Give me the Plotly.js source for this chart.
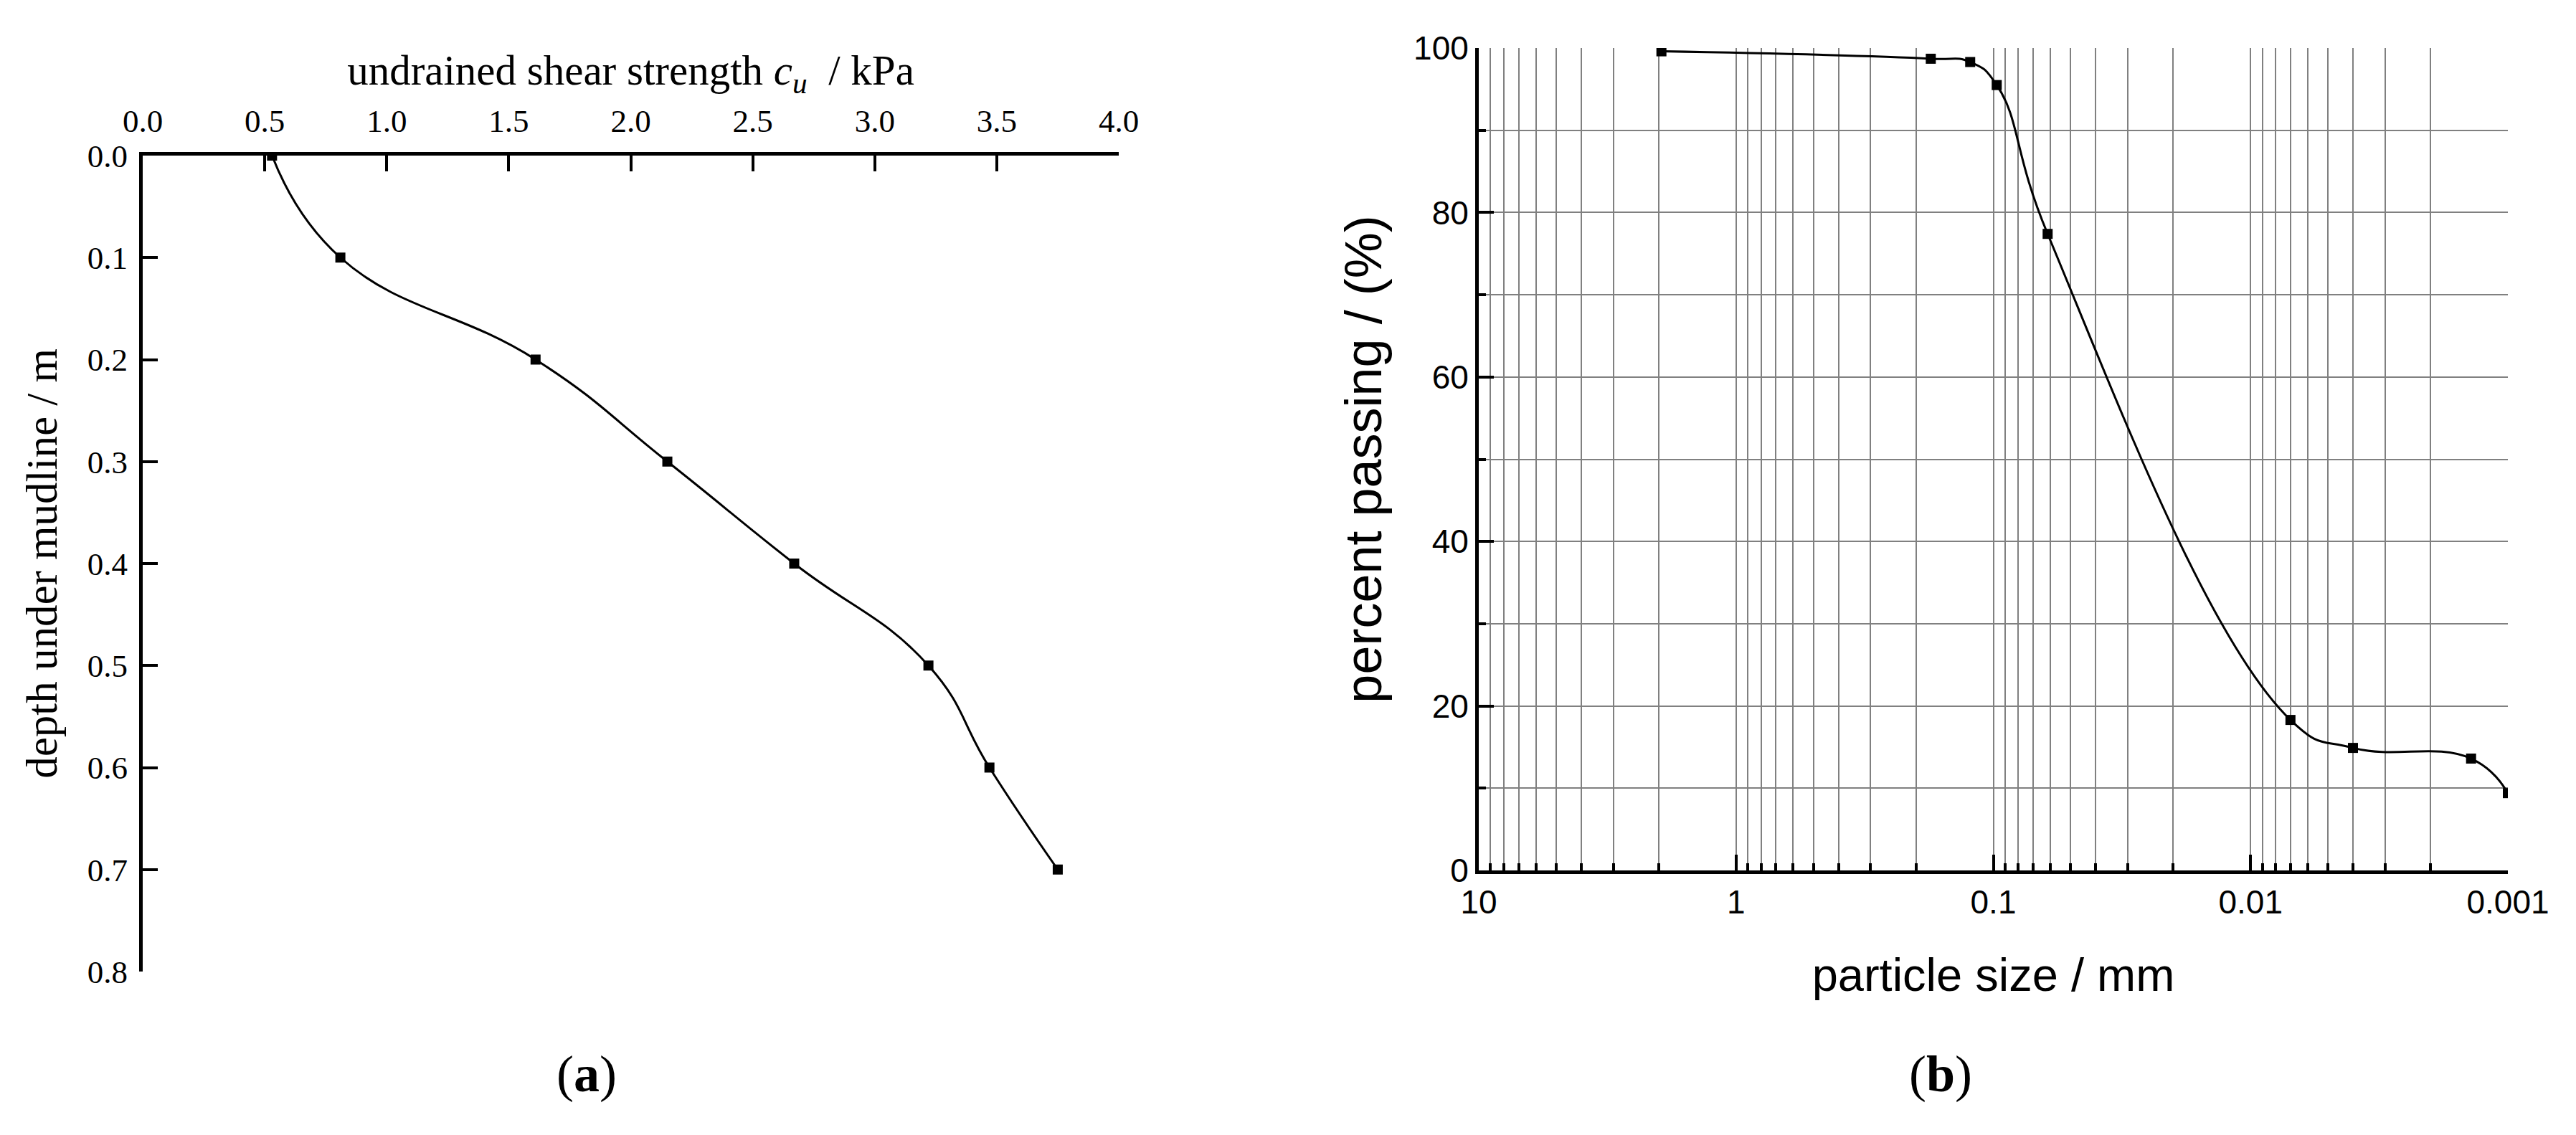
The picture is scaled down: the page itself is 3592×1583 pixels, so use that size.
<!DOCTYPE html>
<html>
<head>
<meta charset="utf-8">
<script src="https://cdn.plot.ly/plotly-3.0.1.min.js"></script>
<style>
html, body { margin: 0; padding: 0; background: #ffffff; }
#chart { width: 3592px; height: 1583px; }
</style>
</head>
<body>
<div id="chart"></div>
<script>
// ---- Panel (a): undrained shear strength profile ----
const shearStrength = [0.53, 0.81, 1.61, 2.15, 2.67, 3.22, 3.47, 3.75];
const depthBelowMudline = [0.0, 0.1, 0.2, 0.3, 0.4, 0.5, 0.6, 0.7];

// ---- Panel (b): particle size distribution ----
const particleSize = [1.95, 0.175, 0.123, 0.097, 0.0615, 0.0070, 0.0040, 0.00139, 0.001];
const percentPassing = [99.6, 98.7, 98.3, 95.5, 77.4, 18.3, 14.9, 13.6, 9.4];

// ---- Tick labels ----
const sizeTickVals = [10, 1, 0.1, 0.01, 0.001];
const sizeTickText = ["10", "1", "0.1", "0.01", "0.001"];
const sizeDecades = [10, 1, 0.1, 0.01];
const sizeDigits = [2, 3, 4, 5, 6, 7, 8, 9];
const sizeMinorVals = [];
sizeDecades.forEach(function (d) {
  sizeDigits.forEach(function (k) { sizeMinorVals.push(d / 10 * k); });
});

const W = 3592, H = 1583;
const px = function (x) { return x / W; };
const py = function (y) { return (H - y) / H; };

const black = "#000000";
const grid = "#808080";
const serif = "Liberation Serif, Times New Roman, serif";
const sans = "Liberation Sans, Arial, sans-serif";

const traces = [
  {
    x: shearStrength, y: depthBelowMudline,
    xaxis: "x", yaxis: "y",
    mode: "lines+markers", type: "scatter",
    line: { shape: "spline", smoothing: 1.3, color: black, width: 3 },
    marker: { symbol: "square", size: 14, color: black },
    showlegend: false, hoverinfo: "skip"
  },
  {
    x: particleSize, y: percentPassing,
    xaxis: "x2", yaxis: "y2",
    mode: "lines+markers", type: "scatter",
    line: { shape: "spline", smoothing: 1.3, color: black, width: 3 },
    marker: { symbol: "square", size: 14, color: black },
    showlegend: false, hoverinfo: "skip"
  }
];

const layout = {
  width: W, height: H,
  margin: { l: 0, r: 0, t: 0, b: 0 },
  paper_bgcolor: "#ffffff",
  plot_bgcolor: "#ffffff",
  showlegend: false,
  xaxis: {
    domain: [px(199), px(1560)], anchor: "y", side: "top",
    range: [0, 4], tick0: 0, dtick: 0.5, tickformat: ".1f",
    ticks: "inside", ticklen: 22, tickwidth: 4, tickcolor: black,
    ticklabelstandoff: 10,
    showline: true, linewidth: 5, linecolor: black,
    showgrid: false, zeroline: false,
    tickfont: { family: serif, size: 45, color: black },
    title: {
      text: "undrained shear strength <i>c</i><sub><i>u</i></sub>&nbsp; / kPa",
      font: { family: serif, size: 59, color: black }, standoff: 8
    }
  },
  yaxis: {
    domain: [py(1355), py(217)], anchor: "x",
    range: [0.8, 0], tick0: 0, dtick: 0.1, tickformat: ".1f",
    ticks: "inside", ticklen: 21, tickwidth: 4, tickcolor: black,
    ticklabelstandoff: 7,
    showline: true, linewidth: 5, linecolor: black,
    showgrid: false, zeroline: false,
    tickfont: { family: serif, size: 45, color: black },
    title: {
      text: "depth under mudline / m",
      font: { family: serif, size: 61, color: black }, standoff: 24
    }
  },
  xaxis2: {
    domain: [px(2062), px(3497)], anchor: "y2", type: "log",
    range: [1, -3],
    tickmode: "array", tickvals: sizeTickVals, ticktext: sizeTickText,
    ticks: "inside", ticklen: 22, tickwidth: 4, tickcolor: black,
    showline: true, linewidth: 5, linecolor: black,
    showgrid: true, gridcolor: grid, gridwidth: 2, zeroline: false,
    minor: {
      tickmode: "array", tickvals: sizeMinorVals,
      ticks: "inside", ticklen: 10, tickwidth: 4, tickcolor: black,
      showgrid: true, gridcolor: grid, gridwidth: 2
    },
    tickfont: { family: sans, size: 46, color: black },
    title: {
      text: "particle size / mm",
      font: { family: sans, size: 65, color: black }, standoff: 55
    }
  },
  yaxis2: {
    domain: [py(1214), py(67)], anchor: "x2",
    range: [0, 100], tick0: 0, dtick: 20,
    ticks: "inside", ticklen: 21, tickwidth: 4, tickcolor: black,
    showline: true, linewidth: 5, linecolor: black,
    showgrid: true, gridcolor: grid, gridwidth: 2, zeroline: false,
    minor: {
      dtick: 10, tick0: 0,
      ticks: "inside", ticklen: 10, tickwidth: 4, tickcolor: black,
      showgrid: true, gridcolor: grid, gridwidth: 2
    },
    tickfont: { family: sans, size: 46, color: black },
    title: {
      text: "percent passing / (%)",
      font: { family: sans, size: 72, color: black }, standoff: 22
    }
  },
  annotations: [
    {
      text: "(<b>a</b>)", xref: "paper", yref: "paper",
      x: px(818), y: py(1498), xanchor: "center", yanchor: "middle",
      showarrow: false, font: { family: serif, size: 72, color: black }
    },
    {
      text: "(<b>b</b>)", xref: "paper", yref: "paper",
      x: px(2706), y: py(1498), xanchor: "center", yanchor: "middle",
      showarrow: false, font: { family: serif, size: 72, color: black }
    }
  ]
};

Plotly.newPlot("chart", traces, layout, { staticPlot: true, displayModeBar: false });
</script>
</body>
</html>
